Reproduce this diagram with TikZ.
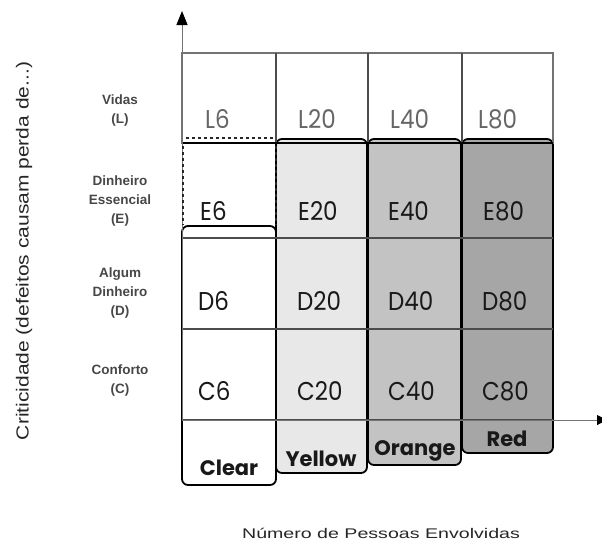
\documentclass[tikz,border=0pt]{standalone}
\usepackage{fontspec}
\usepackage{graphicx}
\setmainfont{Liberation Sans}
\newfontfamily\cellfont{Poppins}
\usetikzlibrary{arrows.meta}
\newcommand{\widetext}[2]{\scalebox{#1}[1]{#2}}
\newcommand{\talltext}[1]{\scalebox{1}[1.12]{#1}}
\begin{document}
\begin{tikzpicture}[x=1pt,y=-1pt,
  gridline/.style={draw=black!70, line width=1.5pt},
  band/.style={draw=black, line width=1.8pt, rounded corners=6pt},
  cell/.style={font=\cellfont\fontsize{23}{23}\selectfont, text=black!90, inner sep=0pt, anchor=base west},
  toprow/.style={cell, text=black!60},
  bandlabel/.style={font=\cellfont\bfseries\fontsize{21}{21}\selectfont, text=black!90, inner sep=0pt, anchor=base},
  rowlabel/.style={font=\bfseries\fontsize{13.5}{19}\selectfont, align=center, text=black!72, inner sep=0pt},
  axislabel/.style={font=\fontsize{17.5}{17.5}\selectfont, text=black!85, inner sep=0pt},
  axis/.style={draw=black!55, line width=1pt},
  dotline/.style={draw=black!85, line width=2.4pt, dash pattern=on 3pt off 3pt}
]
\useasboundingbox (0,0) rectangle (602,552);

% axis end points
\coordinate (origin) at (182,420);
\coordinate (ytip) at (182,11);
\coordinate (xtip) at (607,420);

% shaded column bands, one per severity class
\draw[band, fill=gray!18] (276,139) rectangle (367,473);
\draw[band, fill=gray!47] (368,139) rectangle (461,465);
\draw[band, fill=gray!70] (462,139) rectangle (553,453);
\draw[band, fill=white] (182,226) rectangle (276,485);

% top row of the grid
\draw[draw=black!55, line width=1.3pt] (182,53) rectangle (553,143);
\foreach \x in {276,368,462} \draw[draw=black!70, line width=1.3pt] (\x,53) -- (\x,143);
\draw[draw=black, line width=2pt] (182,143) -- (553,143);

% horizontal grid lines
\foreach \y in {238,329} \draw[gridline] (182,\y) -- (553,\y);
\draw[gridline] (182,420) -- (553,420);

% axes
\draw[axis, -{Triangle[length=14pt,width=11pt,black,fill=black]}] (origin) -- (ytip);
\draw[axis, -{Triangle[length=10pt,width=10pt,black,fill=black]}] (origin) -- (xtip);

% dotted outline around E6
\draw[dotline] (186,138) -- (273,138);
\draw[dotline] (183,146) -- (183,225);
\draw[dotline] (276,146) -- (276,225);

% cell texts
\node[toprow] (L6)  at (205,128) {\talltext{L6}};
\node[toprow] (L20) at (298,128) {\talltext{L20}};
\node[toprow] (L40) at (390,128) {\talltext{L40}};
\node[toprow] (L80) at (478,128) {\talltext{L80}};
\node[cell] (E6)  at (200,220) {\talltext{E6}};
\node[cell] (E20) at (298,220) {\talltext{E20}};
\node[cell] (E40) at (388,220) {\talltext{E40}};
\node[cell] (E80) at (483,220) {\talltext{E80}};
\node[cell] (D6)  at (198,310) {\talltext{D6}};
\node[cell] (D20) at (297,310) {\talltext{D20}};
\node[cell] (D40) at (388,310) {\talltext{D40}};
\node[cell] (D80) at (482,310) {\talltext{D80}};
\node[cell] (C6)  at (198,400) {\talltext{C6}};
\node[cell] (C20) at (297,400) {\talltext{C20}};
\node[cell] (C40) at (388,400) {\talltext{C40}};
\node[cell] (C80) at (482,400) {\talltext{C80}};

% class labels
\node[bandlabel] (clear)  at (229,475) {Clear};
\node[bandlabel] (yellow) at (321,466) {Yellow};
\node[bandlabel] (orange) at (415,455) {Orange};
\node[bandlabel] (red)    at (507,446) {Red};

% row labels
\node[rowlabel] (vidas)    at (120,111) {Vidas\\(L)};
\node[rowlabel] (essen)    at (120,201) {Dinheiro\\Essencial\\(E)};
\node[rowlabel] (algum)    at (120,293) {Algum\\Dinheiro\\(D)};
\node[rowlabel] (conforto) at (120,381) {Conforto\\(C)};

% axis titles
\node[axislabel, rotate=90] (ylab) at (24,251) {\widetext{1.2}{Criticidade (defeitos causam perda de...)}};
\node[axislabel, font=\fontsize{14}{14}\selectfont] (xlab) at (381,533) {\widetext{1.4}{Número de Pessoas Envolvidas}};
\end{tikzpicture}
\end{document}
